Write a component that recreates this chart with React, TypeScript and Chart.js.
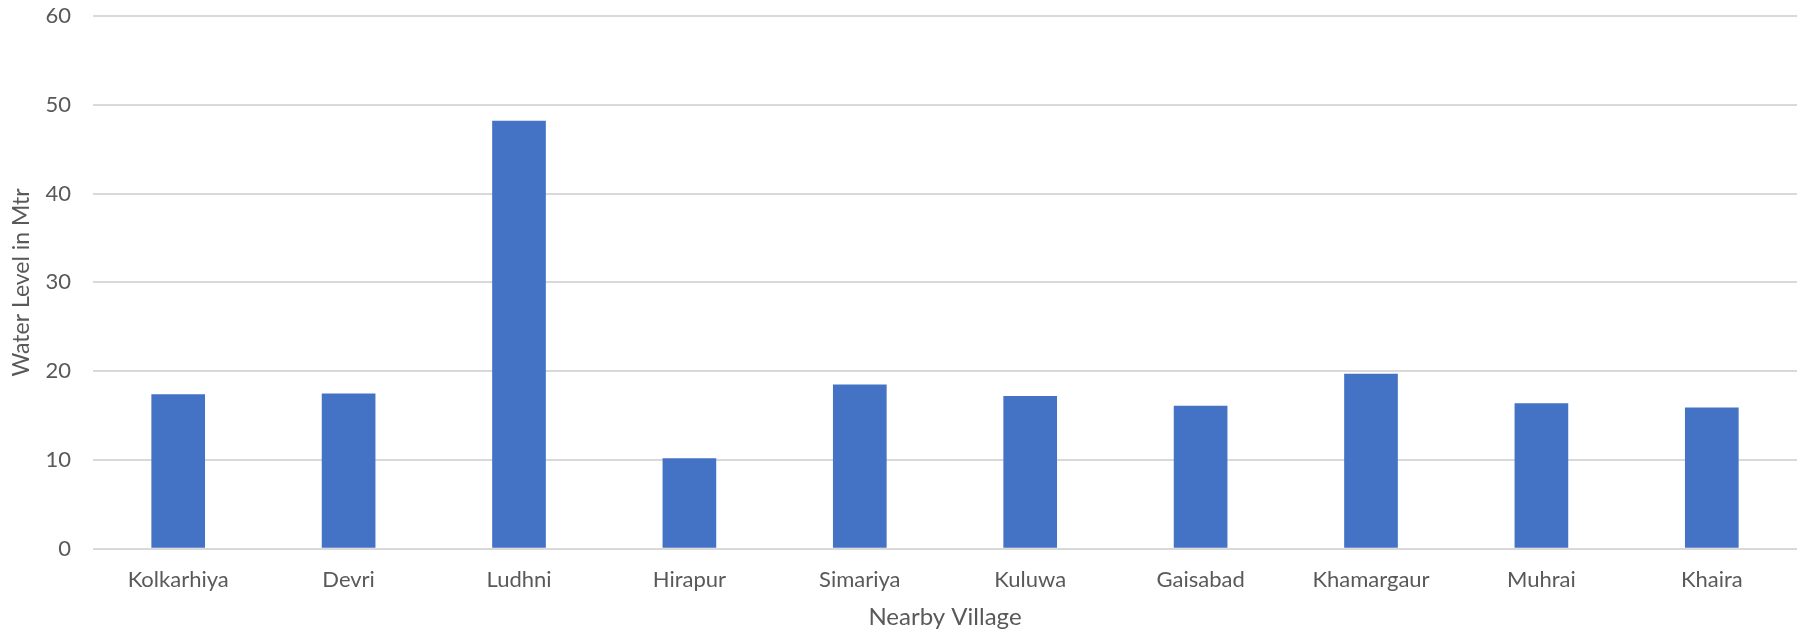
import React, { useEffect, useRef } from "react";
import { Chart, registerables } from "chart.js";

Chart.register(...registerables);

const categories = ["Kolkarhiya", "Devri", "Ludhni", "Hirapur", "Simariya", "Kuluwa", "Gaisabad", "Khamargaur", "Muhrai", "Khaira"];
const waterLevel = [17.4, 17.5, 48.2, 10.2, 18.5, 17.2, 16.1, 19.7, 16.4, 15.9];
const yTicks = [0, 10, 20, 30, 40, 50, 60];

const FONT = "Lato, 'Open Sans', sans-serif";
const TEXT = "#595959";

export default function App() {
  const ref = useRef<HTMLCanvasElement | null>(null);
  useEffect(() => {
    document.body.style.margin = "0";
    const ctx = ref.current!;
    const chart = new Chart(ctx, {
      type: "bar",
      data: {
        labels: categories,
        datasets: [
          {
            label: "Water Level",
            data: waterLevel,
            backgroundColor: "#4472C4",
            borderWidth: 0,
            barPercentage: 0.315,
            categoryPercentage: 1,
          },
        ],
      },
      options: {
        responsive: false,
        animation: false,
        layout: { padding: { top: 0, right: 17, left: 6, bottom: 4 } },
        plugins: { legend: { display: false }, tooltip: { enabled: false } },
        scales: {
          x: {
            grid: { display: false },
            border: { display: false },
            ticks: { color: TEXT, font: { family: FONT, size: 22 }, padding: 10 },
            title: { display: true, text: "Nearby Village", color: TEXT, font: { family: FONT, size: 24 }, padding: { top: 0, bottom: 0 } },
          },
          y: {
            min: 0,
            max: 60,
            afterBuildTicks: (axis: any) => {
              axis.ticks = yTicks.map((v) => ({ value: v }));
            },
            afterFit: (axis: any) => {
              axis.width = 87;
              axis.paddingTop = 16;
            },
            grid: { color: "#D9D9D9", lineWidth: 2, drawTicks: false },
            border: { display: false },
            ticks: { color: TEXT, font: { family: FONT, size: 22 }, padding: 22 },
            title: { display: true, text: "Water Level in Mtr", color: TEXT, font: { family: FONT, size: 23 }, padding: { top: 2, bottom: 0 } },
          },
        },
      },
    });
    return () => chart.destroy();
  }, []);
  return (
    <div style={{ width: 1814, height: 636 }}>
      <canvas ref={ref} width={1814} height={636} />
    </div>
  );
}
